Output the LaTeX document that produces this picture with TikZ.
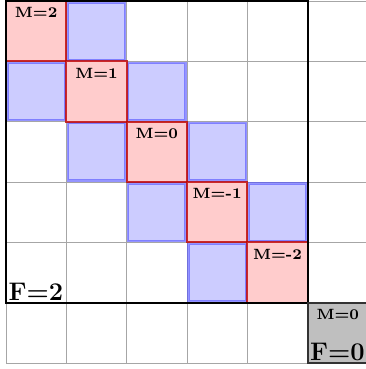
\documentclass[tikz,border=0pt]{standalone}
\begin{document}
\begin{tikzpicture}[x=1cm,y=1cm,
  gridline/.style={gray!70,line width=0.4pt},
  bluecell/.style={fill=blue!20,draw=blue!70,draw opacity=0.6,line width=1pt},
  pinkcell/.style={fill=red!20,draw=red!75!black,draw opacity=0.8,line width=0.9pt},
  mlabel/.style={font=\scriptsize\bfseries,anchor=north,inner sep=3pt},
  flabel/.style={font=\large\bfseries,inner sep=1pt}]
\useasboundingbox (-0.1,-0.1) rectangle (5.96,6.017);
\draw[gridline] (0,0) grid (6,6);
% blue cells
\foreach \c/\r in {1/0,0/1,2/1,1/2,3/2,2/3,4/3,3/4}{
  \draw[bluecell] (\c+0.025,6-\r-1+0.025) rectangle (\c+1-0.025,6-\r-0.025);
}
% pink cells
\foreach \i/\m in {0/2,1/1,2/0,3/-1,4/-2}{
  \draw[pinkcell] (\i,6-\i-1) rectangle (\i+1,6-\i);
  \node[mlabel] (m\i) at (\i+0.5,6-\i) {M=\m};
}
\draw[black,line width=1pt] (0,1) rectangle (5,6);
\node[flabel,anchor=south west] (f2) at (0,1) {F=2};
\draw[fill=gray!50,draw=black!80,line width=1pt] (5,0) rectangle (6,1);
\node[mlabel] (m5) at (5.5,1) {M=0};
\node[flabel,anchor=south west] (f0) at (5,0) {F=0};
\end{tikzpicture}
\end{document}
